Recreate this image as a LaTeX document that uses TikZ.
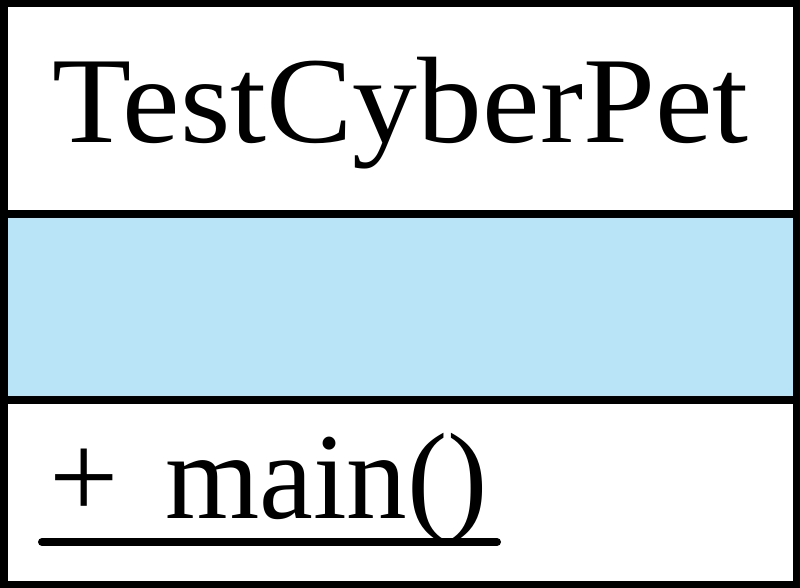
\documentclass[tikz,border=0pt]{standalone}
\usepackage{fontspec}
\usepackage{graphicx}
\setmainfont{Liberation Serif}
\definecolor{attrblue}{RGB}{185,227,247}
\tikzset{
  frame/.style={draw=black,line width=7.5pt},
  divider/.style={draw=black,line width=7.5pt},
  big/.style={inner sep=0pt,font=\fontsize{123}{123}\selectfont},
}
\begin{document}
\begin{tikzpicture}[x=1pt,y=-1pt]
\useasboundingbox (0,0) rectangle (800,588);
\fill[attrblue] (0,214) rectangle (800,400);
\draw[divider] (0,214) -- (800,214);
\draw[divider] (0,400) -- (800,400);
\draw[frame] (3.75,3.75) rectangle (796.25,584.25);
\node[big,anchor=base] (title) at (400.5,143) {\scalebox{1.053}[1]{TestCyberPet}};
\node[big,anchor=base west] (plus) at (49,518) {+};
\node[big,anchor=base west] (op) at (165,518) {\scalebox{0.985}[1]{main()}};
\coordinate (ulA) at (42,542);
\coordinate (ulB) at (497,542);
\draw[line width=8pt,line cap=round] (ulA) -- (ulB);
\end{tikzpicture}
\end{document}
